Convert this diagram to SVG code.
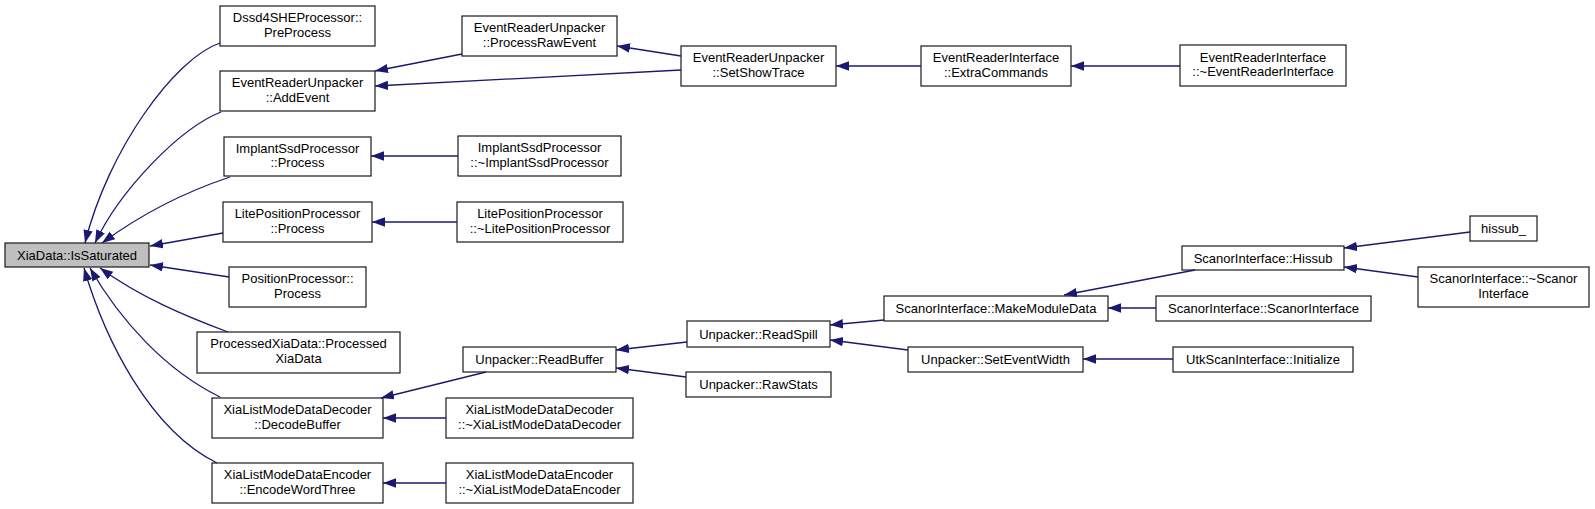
<svg xmlns="http://www.w3.org/2000/svg" width="1595" height="509" viewBox="0 0 1595 509">
<style>
.n rect{fill:#ffffff;stroke:#1a1a1a;stroke-width:1.2}
.n.root rect{fill:#bfbfbf}
.n text{font-family:"Liberation Sans",Arial,Helvetica,sans-serif;font-size:13px;fill:#000000;text-anchor:middle}
#edges path{fill:none;stroke:#191970;stroke-width:1.3;marker-end:url(#ah)}
</style>
<defs>
<marker id="ah" markerWidth="14" markerHeight="10" refX="13" refY="4.7" orient="auto" markerUnits="userSpaceOnUse">
<path d="M0,0 L13,4.7 L0,9.4 z" fill="#191970"/>
</marker>
</defs>
<rect x="0" y="0" width="1595" height="509" fill="#ffffff"/>
<g id="nodes">
<g id="n0" class="n root"><rect x="5" y="243" width="144" height="24"/><text x="77" y="259.5">XiaData::IsSaturated</text></g>
<g id="n1" class="n"><rect x="220" y="6" width="155" height="40"/><text x="297.5" y="22">Dssd4SHEProcessor::</text><text x="297.5" y="36.5">PreProcess</text></g>
<g id="n2" class="n"><rect x="220" y="71" width="155" height="40"/><text x="297.5" y="87">EventReaderUnpacker</text><text x="297.5" y="101.5">::AddEvent</text></g>
<g id="n3" class="n"><rect x="224" y="137" width="147" height="39"/><text x="297.5" y="152.5">ImplantSsdProcessor</text><text x="297.5" y="167">::Process</text></g>
<g id="n4" class="n"><rect x="223" y="202" width="149" height="40"/><text x="297.5" y="218">LitePositionProcessor</text><text x="297.5" y="232.5">::Process</text></g>
<g id="n5" class="n"><rect x="229" y="267" width="137" height="40"/><text x="297.5" y="283">PositionProcessor::</text><text x="297.5" y="297.5">Process</text></g>
<g id="n6" class="n"><rect x="197" y="332" width="203" height="41"/><text x="298.5" y="348">ProcessedXiaData::Processed</text><text x="298.5" y="362.5">XiaData</text></g>
<g id="n7" class="n"><rect x="212" y="398" width="171" height="40"/><text x="297.5" y="414">XiaListModeDataDecoder</text><text x="297.5" y="428.5">::DecodeBuffer</text></g>
<g id="n8" class="n"><rect x="212" y="463" width="171" height="40"/><text x="297.5" y="479">XiaListModeDataEncoder</text><text x="297.5" y="493.5">::EncodeWordThree</text></g>
<g id="n9" class="n"><rect x="462" y="16" width="155" height="40"/><text x="539.5" y="32">EventReaderUnpacker</text><text x="539.5" y="46.5">::ProcessRawEvent</text></g>
<g id="n10" class="n"><rect x="681" y="46" width="155" height="40"/><text x="758.5" y="62">EventReaderUnpacker</text><text x="758.5" y="76.5">::SetShowTrace</text></g>
<g id="n11" class="n"><rect x="458" y="136" width="163" height="40"/><text x="539.5" y="152">ImplantSsdProcessor</text><text x="539.5" y="166.5">::~ImplantSsdProcessor</text></g>
<g id="n12" class="n"><rect x="457" y="202" width="166" height="40"/><text x="540" y="218">LitePositionProcessor</text><text x="540" y="232.5">::~LitePositionProcessor</text></g>
<g id="n13" class="n"><rect x="463" y="347" width="153" height="25"/><text x="539.5" y="364">Unpacker::ReadBuffer</text></g>
<g id="n14" class="n"><rect x="446" y="398" width="187" height="40"/><text x="539.5" y="414">XiaListModeDataDecoder</text><text x="539.5" y="428.5">::~XiaListModeDataDecoder</text></g>
<g id="n15" class="n"><rect x="446" y="463" width="187" height="40"/><text x="539.5" y="479">XiaListModeDataEncoder</text><text x="539.5" y="493.5">::~XiaListModeDataEncoder</text></g>
<g id="n16" class="n"><rect x="687" y="321" width="143" height="26"/><text x="758.5" y="338.5">Unpacker::ReadSpill</text></g>
<g id="n17" class="n"><rect x="686" y="372" width="145" height="25"/><text x="758.5" y="389">Unpacker::RawStats</text></g>
<g id="n18" class="n"><rect x="921" y="46" width="150" height="40"/><text x="996" y="62">EventReaderInterface</text><text x="996" y="76.5">::ExtraCommands</text></g>
<g id="n19" class="n"><rect x="884" y="296" width="224" height="25"/><text x="996" y="313">ScanorInterface::MakeModuleData</text></g>
<g id="n20" class="n"><rect x="908" y="347" width="175" height="25"/><text x="995.5" y="364">Unpacker::SetEventWidth</text></g>
<g id="n21" class="n"><rect x="1180" y="45" width="166" height="41"/><text x="1263" y="61.5">EventReaderInterface</text><text x="1263" y="76">::~EventReaderInterface</text></g>
<g id="n22" class="n"><rect x="1182" y="246" width="162" height="24"/><text x="1263" y="262.5">ScanorInterface::Hissub</text></g>
<g id="n23" class="n"><rect x="1156" y="296" width="215" height="25"/><text x="1263.5" y="313">ScanorInterface::ScanorInterface</text></g>
<g id="n24" class="n"><rect x="1173" y="347" width="180" height="25"/><text x="1263" y="364">UtkScanInterface::Initialize</text></g>
<g id="n25" class="n"><rect x="1470" y="216" width="67" height="25"/><text x="1503.5" y="233">hissub_</text></g>
<g id="n26" class="n"><rect x="1418" y="267" width="171" height="40"/><text x="1503.5" y="283">ScanorInterface::~Scanor</text><text x="1503.5" y="297.5">Interface</text></g>
</g>
<g id="edges">
<path d="M220,43 C175,58 108,150 85,243"/>
<path d="M221,112 C180,128 120,190 95,243"/>
<path d="M230,177 C185,192 140,215 102,243"/>
<path d="M223,233 L150,246"/>
<path d="M229,277 L150,265"/>
<path d="M228,332 C185,316 140,297 100,268"/>
<path d="M220,397 C165,370 120,320 90,268"/>
<path d="M217,463 C150,430 105,340 84,268"/>
<path d="M462,54 L375,71"/>
<path d="M681,70 L375,86"/>
<path d="M681,56 L617,46"/>
<path d="M921,66 L836,66"/>
<path d="M1180,66 L1071,66"/>
<path d="M458,156 L371,156"/>
<path d="M457,222 L372,222"/>
<path d="M486,372 L381,398"/>
<path d="M446,418 L383,418"/>
<path d="M446,483 L383,483"/>
<path d="M687,342 L616,350"/>
<path d="M686,377 L616,368"/>
<path d="M884,320 L830,325"/>
<path d="M908,350 L830,340"/>
<path d="M1195,270 L1064,295"/>
<path d="M1156,308 L1108,308"/>
<path d="M1173,359 L1083,359"/>
<path d="M1470,232 L1344,248"/>
<path d="M1418,277 L1344,267"/>
</g>
</svg>
